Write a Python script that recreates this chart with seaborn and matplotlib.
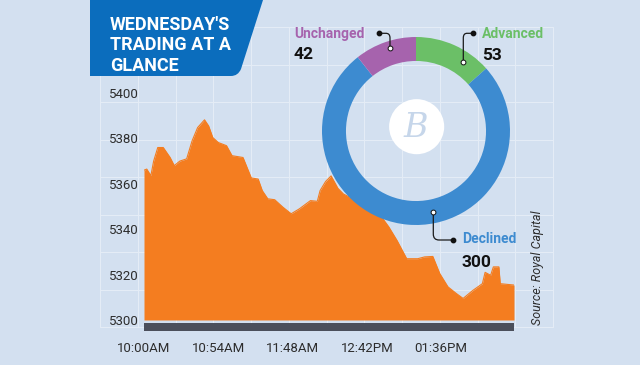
import numpy as np
import pandas as pd
import matplotlib.pyplot as plt
import seaborn as sns
from matplotlib.path import Path
from matplotlib.patches import PathPatch, Circle

# DSEX intraday, minutes after 10:00AM
minutes = [0, 2, 5, 7, 10, 14, 19, 22, 26, 31, 35, 39, 44, 47, 50, 54, 60, 64,
           72, 78, 83, 86, 90, 95, 101, 107, 113, 121, 126, 128, 132, 136, 141,
           145, 150, 156, 164, 172, 178, 184, 191, 199, 204, 210, 215, 221, 227,
           232, 239, 246, 248, 252, 254, 258, 259, 269]
index_values = [5366, 5366.5, 5363.6, 5370, 5376, 5376, 5371.6, 5368, 5370, 5371,
                5379, 5384.8, 5388.2, 5385.5, 5380.4, 5378.2, 5376.8, 5372.4,
                5371.6, 5362.6, 5362.1, 5357, 5353.4, 5353, 5349.7, 5346.8, 5349,
                5352.6, 5352.3, 5357, 5361, 5363.5, 5358, 5355.5, 5354, 5352.6,
                5350.4, 5346, 5341, 5335, 5327, 5327, 5327.8, 5328, 5320.5, 5314.6,
                5311.7, 5309.5, 5313, 5316, 5321, 5319.7, 5323.4, 5323.4, 5316, 5315.4]
tick_minutes = [0, 54, 108, 162, 216]
tick_labels = ['10:00AM', '10:54AM', '11:48AM', '12:42PM', '01:36PM']
y_ticks = [5300, 5320, 5340, 5360, 5380, 5400]

breadth_labels = ['Advanced', 'Declined', 'Unchanged']
breadth_counts = [53, 300, 42]
breadth_colors = ['#6bbf67', '#3d8bd0', '#a663ad']

df = pd.DataFrame({'minute': minutes, 'index': index_values})

W, H = 640, 365
bg = '#d3e0f0'
gridc = '#e4ecf6'
orange = '#f47d20'


def box(x0, y0, x1, y1):
    return [x0 / W, 1 - y1 / H, (x1 - x0) / W, (y1 - y0) / H]


sns.set_theme(style='white')
plt.rcParams['font.family'] = ['Roboto', 'DejaVu Sans']

fig = plt.figure(figsize=(6.4, 3.65), dpi=100, facecolor=bg)

# background layer in pixel coords: grid + title box
back = fig.add_axes([0, 0, 1, 1], zorder=0)
back.set_xlim(0, W)
back.set_ylim(H, 0)
back.axis('off')
for k in range(13):
    x = 100 + k * 37.75
    back.plot([x, x], [27, 327], color=gridc, lw=0.8, zorder=1)
for k in range(9):
    y = 27 + k * 37.5
    back.plot([100, 553], [y, y], color=gridc, lw=0.8, zorder=1)

verts = [(90, 0), (263, 0), (241, 69), (238, 76), (231, 76), (90, 76), (90, 0)]
codes = [Path.MOVETO, Path.LINETO, Path.LINETO, Path.CURVE3, Path.CURVE3,
         Path.LINETO, Path.CLOSEPOLY]
back.add_patch(PathPatch(Path(verts, codes), facecolor='#0b6dbd', edgecolor='none',
                         zorder=3))
for txt, yb in [("WEDNESDAY'S", 29.5), ('TRADING AT A', 50.3), ('GLANCE', 71)]:
    back.text(110, yb, txt, color='white', fontsize=13, fontweight='bold',
              va='baseline', ha='left', zorder=4)

# area chart
ax = fig.add_axes(box(144, 27, 514, 331), zorder=1)
ax.set_facecolor('none')
ax.fill_between(df['minute'], 5300, df['index'], color=orange, lw=0)
sns.lineplot(data=df, x='minute', y='index', color=orange, lw=0.8, ax=ax)
ax.axhspan(5295.15, 5298.7, color='#4b4f5b', lw=0)
ax.set_xlim(0, 269)
ax.set_ylim(5295.15, 5429.1)
ax.set_xticks(tick_minutes)
ax.set_xticklabels(tick_labels)
ax.set_yticks(y_ticks)
ax.set_yticklabels([str(v) for v in y_ticks])
ax.tick_params(axis='both', length=0, labelsize=9.5, labelcolor='#2d2d2d')
ax.tick_params(axis='x', pad=8)
ax.tick_params(axis='y', pad=3.6)
ax.set_xlabel('')
ax.set_ylabel('')
for s in ax.spines.values():
    s.set_visible(False)
ax.grid(False)

# donut
dax = fig.add_axes(box(322, 37, 510, 225), zorder=2)
dax.set_facecolor('none')
dax.pie(breadth_counts, colors=breadth_colors, startangle=90, counterclock=False,
        radius=1, wedgeprops=dict(width=0.255, linewidth=0))
dax.add_patch(Circle((0.007, 0.046), 0.293, color='white', lw=0))
dax.text(0.0, 0.03, 'B', family='DejaVu Serif', style='italic', fontsize=24,
         color='#c6d6ea', ha='center', va='center')
dax.set_xlim(-1, 1)
dax.set_ylim(-1, 1)
dax.set_aspect('equal')
dax.axis('off')

# labels and leader lines
top = fig.add_axes([0, 0, 1, 1], zorder=3)
top.set_facecolor('none')
top.set_xlim(0, W)
top.set_ylim(H, 0)
top.axis('off')

label_pos = {'Unchanged': (294, 37.7, 59.3), 'Advanced': (482, 37.7, 59.5),
             'Declined': (462, 243.3, 266.7)}
for name, cnt, col in zip(breadth_labels, breadth_counts, breadth_colors):
    x, y1, y2 = label_pos[name]
    top.text(x, y1, name, color=col, fontsize=10, fontweight='bold', va='baseline')
    top.text(x, y2, str(cnt), color='#111111', fontsize=12.5, fontweight='bold',
             va='baseline')

leaders = [
    [(379, 33.3), (386, 33.3), (390, 33.3), (390, 38), (390, 47.7)],
    [(473.3, 33.3), (467, 33.3), (463.3, 33.3), (463.3, 38), (463.3, 62)],
    [(433.3, 211.7), (433.3, 234), (433.3, 240), (439, 240), (452.7, 240)],
]
lcodes = [Path.MOVETO, Path.LINETO, Path.CURVE3, Path.CURVE3, Path.LINETO]
for pts in leaders:
    top.add_patch(PathPatch(Path(pts, lcodes), facecolor='none',
                            edgecolor='#1a1a1a', lw=0.9))
top.scatter([379, 473.3, 452.7], [33.3, 33.3, 240], s=10, color='#111111', zorder=5)
top.scatter([390, 463.3, 433.3], [47.7, 62, 211.7], s=12, color='white',
            edgecolors='#111111', linewidths=0.7, zorder=5)

top.text(537.5, 268, 'Source: Royal Capital', rotation=90, style='italic',
         fontsize=9, color='#2d2d2d', ha='center', va='center')

fig.savefig('out.png', dpi=100, facecolor=bg)
